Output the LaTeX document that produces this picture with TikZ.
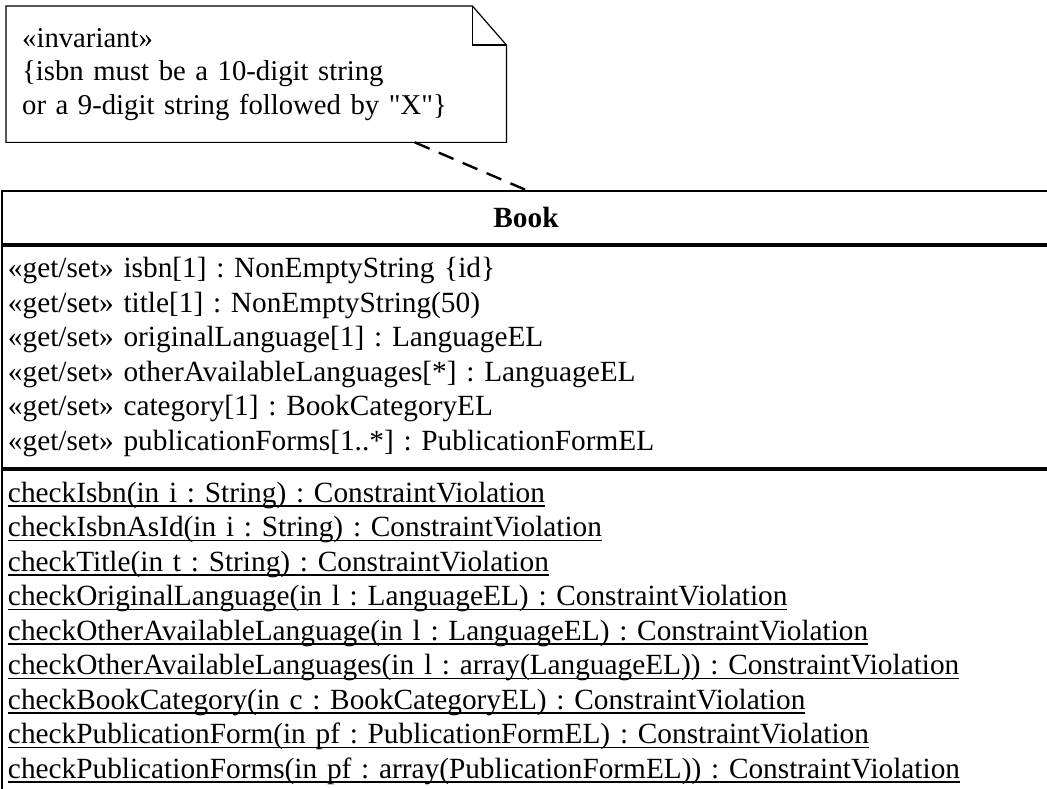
\documentclass[tikz,border=0pt]{standalone}
\usepackage{fontspec}
\setmainfont{Liberation Serif}
\usetikzlibrary{positioning}

% subrayado a profundidad fija para las operaciones
\newcommand\opline[1]{\leavevmode\setbox0\hbox{#1}\rlap{\rule[-4.5pt]{\wd0}{1.5pt}}\box0}

\begin{document}
\frenchspacing
\begin{tikzpicture}[x=1pt, y=-1pt]
  \tikzset{
    note_box/.style={anchor=north west, minimum width=500pt, minimum height=136pt, inner xsep=16pt, inner ysep=0pt, text width=468pt, align=left, font=\fontsize{28.7pt}{33.5pt}\selectfont},
    note_line/.style={draw, line width=1.2pt},
    class_part/.style={draw, line width=2pt, minimum width=1048pt, inner xsep=6pt, text width=1036pt, align=left, font=\fontsize{29.3pt}{34.5pt}\selectfont},
    anchor_line/.style={line width=2.4pt, dash pattern=on 16pt off 10pt}
  }
  \useasboundingbox (0,0) rectangle (1047,789);

  % Nota con la restriccion
  \node[note_box] (note) at (6,6)
    {«invariant»\\ \{isbn must be a 10-digit string\\ or a 9-digit string followed by \textquotedbl X\textquotedbl\}};
  \draw[note_line] (note.north west) -- ([xshift=-34pt]note.north east) -- ([yshift=-39pt]note.north east) -- (note.south east) -- (note.south west) -- cycle;
  \draw[note_line] ([xshift=-34pt]note.north east) |- ([yshift=-39pt]note.north east);

  % Clase Book (cabecera, atributos, operaciones)
  \node[class_part, align=center, minimum height=53pt, anchor=north] (book) at (526,190) {\textbf{Book}};
  \node[class_part, minimum height=222pt, below=0pt of book] (bookAttrs)
    {«get/set» isbn[1] : NonEmptyString \{id\}\\
     «get/set» title[1] : NonEmptyString(50)\\
     «get/set» originalLanguage[1] : LanguageEL\\
     «get/set» otherAvailableLanguages[*] : LanguageEL\\
     «get/set» category[1] : BookCategoryEL\\
     «get/set» publicationForms[1..*] : PublicationFormEL};
  \node[class_part, inner ysep=12pt, below=0pt of bookAttrs] (bookOps)
    {\opline{checkIsbn(in i : String) : ConstraintViolation}\\
     \opline{checkIsbnAsId(in i : String) : ConstraintViolation}\\
     \opline{checkTitle(in t : String) : ConstraintViolation}\\
     \opline{checkOriginalLanguage(in l : LanguageEL) : ConstraintViolation}\\
     \opline{checkOtherAvailableLanguage(in l : LanguageEL) : ConstraintViolation}\\
     \opline{checkOtherAvailableLanguages(in l : array(LanguageEL)) : ConstraintViolation}\\
     \opline{checkBookCategory(in c : BookCategoryEL) : ConstraintViolation}\\
     \opline{checkPublicationForm(in pf : PublicationFormEL) : ConstraintViolation}\\
     \opline{checkPublicationForms(in pf : array(PublicationFormEL)) : ConstraintViolation}\rule[-60pt]{0pt}{60pt}};

  % Linea de anclaje de la nota
  \draw[anchor_line] (note) -- (book.north);
\end{tikzpicture}
\end{document}
